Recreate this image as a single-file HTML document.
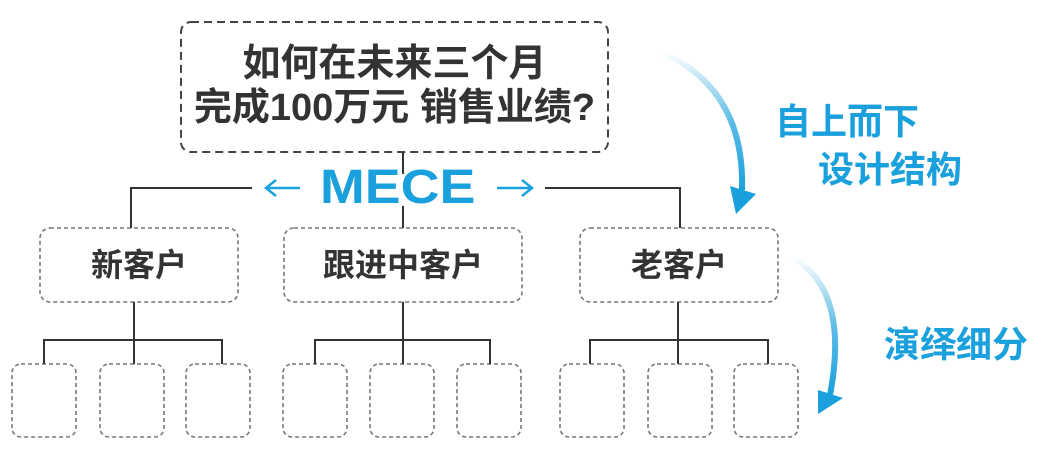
<!DOCTYPE html>
<html><head><meta charset="utf-8"><style>
html,body{margin:0;padding:0;background:#fff;}
body{width:1054px;height:456px;position:relative;overflow:hidden;font-family:"Liberation Sans","Noto Sans CJK SC",sans-serif;}
.t{position:absolute;white-space:nowrap;font-weight:bold;}
</style></head><body>
<svg width="1054" height="456" style="position:absolute;left:0;top:0">
<defs>
<linearGradient id="g1" x1="0" y1="0" x2="0" y2="1"><stop offset="0" stop-color="#1aa0dc" stop-opacity="0"/><stop offset="0.5" stop-color="#1aa0dc" stop-opacity="0.7"/><stop offset="1" stop-color="#1aa0dc"/></linearGradient>
</defs>
<g fill="none" stroke="#444" stroke-width="2">
<rect x="181" y="22" width="427" height="130" rx="10" stroke-dasharray="8,5"/>
</g>
<g fill="none" stroke="#777" stroke-width="1.6" stroke-dasharray="4,3">
<rect x="40" y="228" width="198" height="74" rx="10"/>
<rect x="284" y="228" width="238" height="74" rx="10"/>
<rect x="580" y="228" width="198" height="74" rx="10"/>
<rect x="12" y="364" width="64" height="73" rx="9"/>
<rect x="100" y="364" width="64" height="73" rx="9"/>
<rect x="186" y="364" width="64" height="73" rx="9"/>
<rect x="283" y="364" width="64" height="73" rx="9"/>
<rect x="370" y="364" width="64" height="73" rx="9"/>
<rect x="457" y="364" width="64" height="73" rx="9"/>
<rect x="560" y="364" width="64" height="73" rx="9"/>
<rect x="648" y="364" width="64" height="73" rx="9"/>
<rect x="734" y="364" width="64" height="73" rx="9"/>
</g>
<g fill="none" stroke="#333" stroke-width="2">
<path d="M403 152V174M403 206V228"/>
<path d="M131 228V188H252M545 188H680V228"/>
<path d="M134 302V340M44 364V340H222V364M134 340V364"/>
<path d="M403 302V340M315 364V340H490V364M403 340V364"/>
<path d="M678 302V340M590 364V340H768V364M678 340V364"/>
</g>
<g stroke="#1aa0dc" stroke-width="2.5" fill="none">
<path d="M266 188H300M276 180L266 188L276 196"/>
<path d="M497 188H532M522 180L532 188L522 196"/>
</g>
<path d="M662 52 Q 745 90 742 190" fill="none" stroke="url(#g1)" stroke-width="6"/>
<polygon points="730,186 756,194 736,214" fill="#1aa0dc"/>
<path d="M792 257 Q 850 290 830 395" fill="none" stroke="url(#g1)" stroke-width="6"/>
<polygon points="818,390 843,398 818,414" fill="#1aa0dc"/>
</svg>
<div class="t" style="left:181px;top:42px;width:427px;text-align:center;font-size:38px;line-height:44px;color:#333">如何在未来三个月<br>完成100万元 销售业绩?</div>
<div class="t" style="left:320px;top:160px;width:156px;font-size:48px;line-height:56px;color:#1aa0dc;transform:scaleX(1.12);transform-origin:left center">MECE</div>
<div class="t" style="left:40px;top:245px;width:198px;text-align:center;font-size:32px;line-height:40px;color:#333">新客户</div>
<div class="t" style="left:284px;top:245px;width:238px;text-align:center;font-size:32px;line-height:40px;color:#333">跟进中客户</div>
<div class="t" style="left:580px;top:245px;width:198px;text-align:center;font-size:32px;line-height:40px;color:#333">老客户</div>
<div class="t" style="left:775px;top:100px;font-size:36px;line-height:44px;color:#1aa0dc">自上而下</div>
<div class="t" style="left:818px;top:148px;font-size:36px;line-height:44px;color:#1aa0dc">设计结构</div>
<div class="t" style="left:884px;top:323px;font-size:36px;line-height:44px;color:#1aa0dc">演绎细分</div>
</body></html>
